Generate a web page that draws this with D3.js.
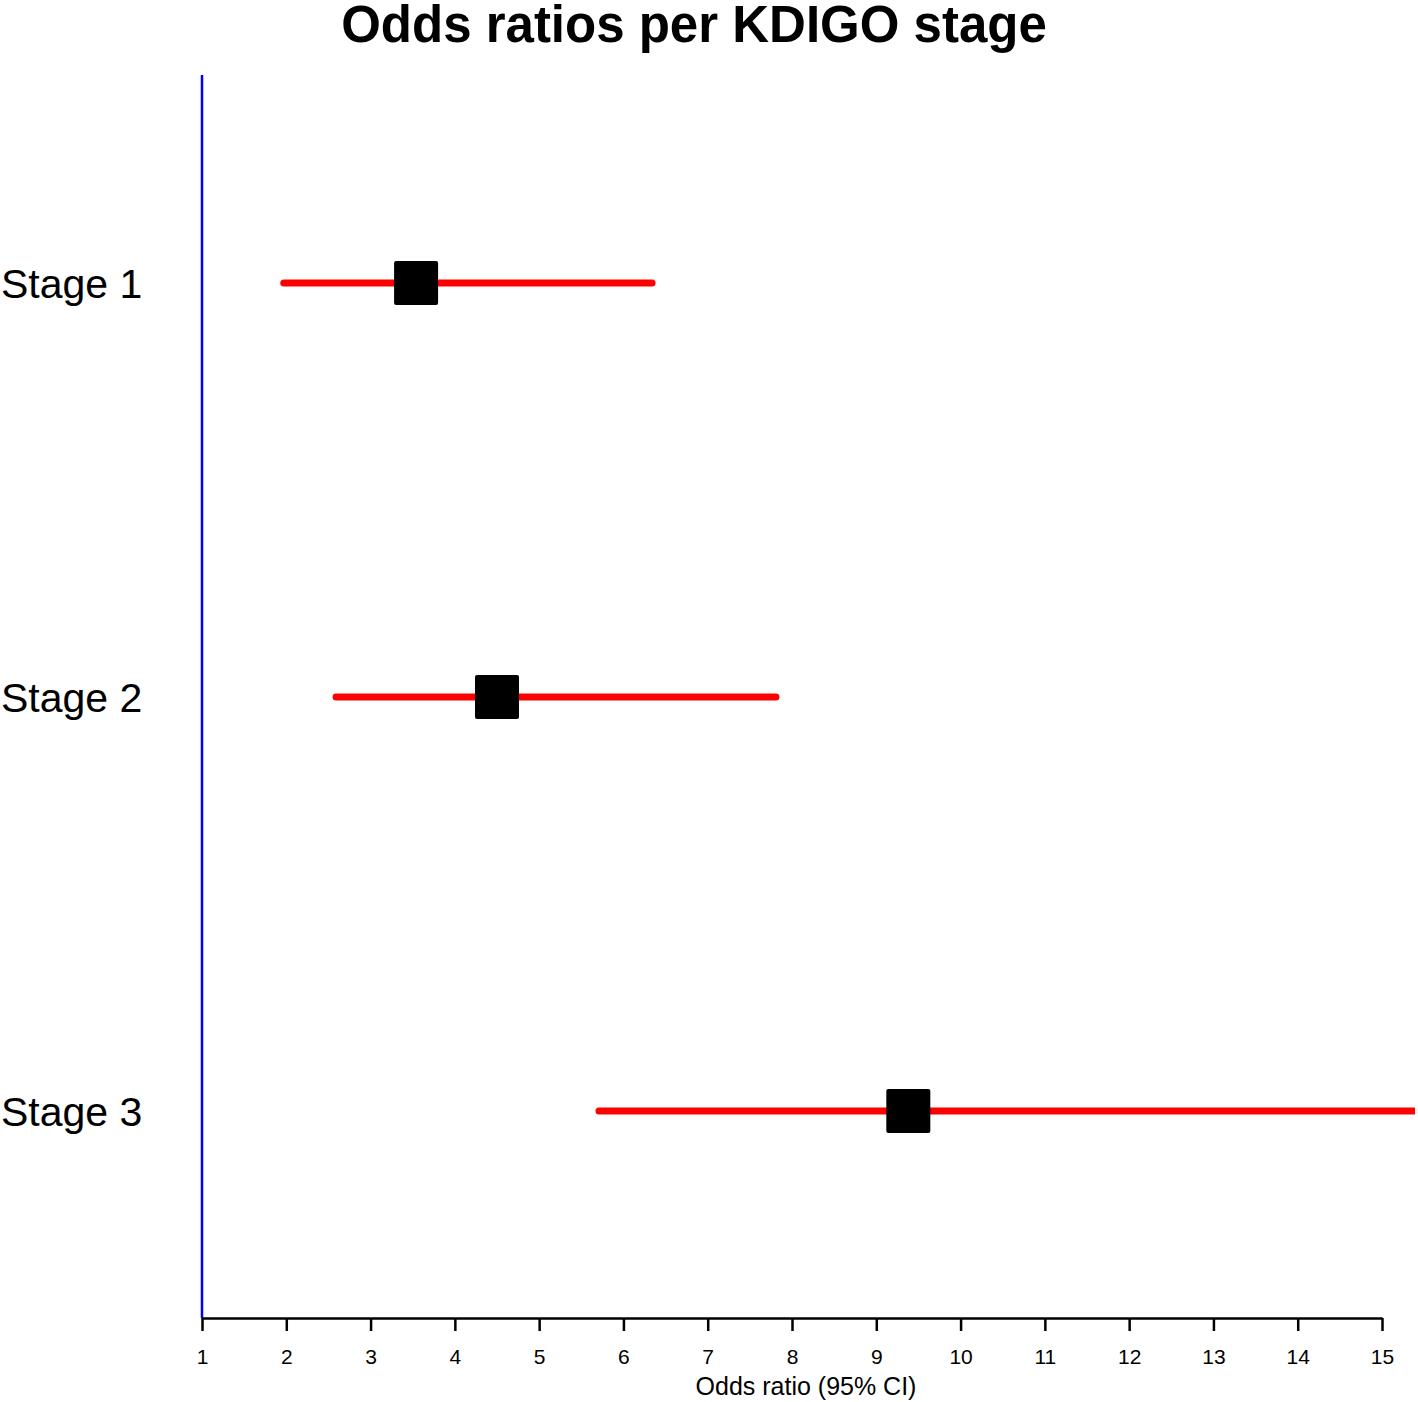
<!DOCTYPE html>
<html>
<head>
<meta charset="utf-8">
<script src="https://cdn.jsdelivr.net/npm/d3@7"></script>
<style>
  body { margin: 0; background: #fff; }
  text { font-family: "Liberation Sans", Arial, sans-serif; }
</style>
</head>
<body>
<svg width="1418" height="1402"></svg>
<script>
const stages = ["Stage 1", "Stage 2", "Stage 3"];
const oddsRatio = [3.54, 4.50, 9.38];
const lowerCI = [1.97, 2.59, 5.71];
const upperCI = [6.34, 7.81, 15.40];
const xTicks = d3.range(1, 16);

const svg = d3.select("svg");

const x = d3.scaleLinear().domain([1, 15]).range([202, 1382]);
const y = d3.scalePoint().domain(stages).range([283, 1111]);

// clip so the stage 3 whisker stops at the plot edge
svg.append("clipPath").attr("id", "plot")
  .append("rect").attr("x", 150).attr("y", 60).attr("width", 1265).attr("height", 1260);

// title
svg.append("text")
  .attr("x", 694).attr("y", 42)
  .attr("text-anchor", "middle")
  .style("font-size", "51px").style("font-weight", "bold")
  .text("Odds ratios per KDIGO stage");

// reference line at OR = 1
svg.append("line")
  .attr("x1", x(1)).attr("x2", x(1))
  .attr("y1", 75).attr("y2", 1318)
  .style("stroke", "#0000ff").style("stroke-width", 2.5);

// x axis
const axis = svg.append("g")
  .attr("transform", "translate(0,1318)")
  .call(d3.axisBottom(x).tickValues(xTicks).tickSize(13).tickPadding(18).tickSizeOuter(0));
axis.select(".domain").style("stroke", "#000").style("stroke-width", 2.5);
axis.selectAll(".tick line").style("stroke", "#000").style("stroke-width", 2.5);
axis.selectAll(".tick text").style("font-size", "21px").style("font-family", "Liberation Sans, Arial, sans-serif").attr("fill", "#000");

svg.append("text")
  .attr("x", 806).attr("y", 1395)
  .attr("text-anchor", "middle")
  .style("font-size", "25px")
  .text("Odds ratio (95% CI)");

// stage labels
svg.append("g").selectAll("text")
  .data(stages)
  .enter()
  .append("text")
  .attr("x", 1)
  .attr("y", d => y(d) + 15)
  .style("font-size", "41px")
  .text(d => d);

// confidence intervals
const rows = stages.map((s, i) => ({ s, or: oddsRatio[i], lo: lowerCI[i], hi: upperCI[i] }));

svg.append("g").attr("clip-path", "url(#plot)")
  .selectAll("line")
  .data(rows)
  .enter()
  .append("line")
  .attr("x1", d => x(d.lo)).attr("x2", d => x(d.hi))
  .attr("y1", d => y(d.s)).attr("y2", d => y(d.s))
  .style("stroke", "#ff0000").style("stroke-width", 7).style("stroke-linecap", "round");

// point estimates
svg.append("g").selectAll("rect")
  .data(rows)
  .enter()
  .append("rect")
  .attr("x", d => x(d.or) - 22).attr("y", d => y(d.s) - 22)
  .attr("width", 44).attr("height", 44).attr("rx", 2)
  .attr("fill", "#000");
</script>
</body>
</html>
